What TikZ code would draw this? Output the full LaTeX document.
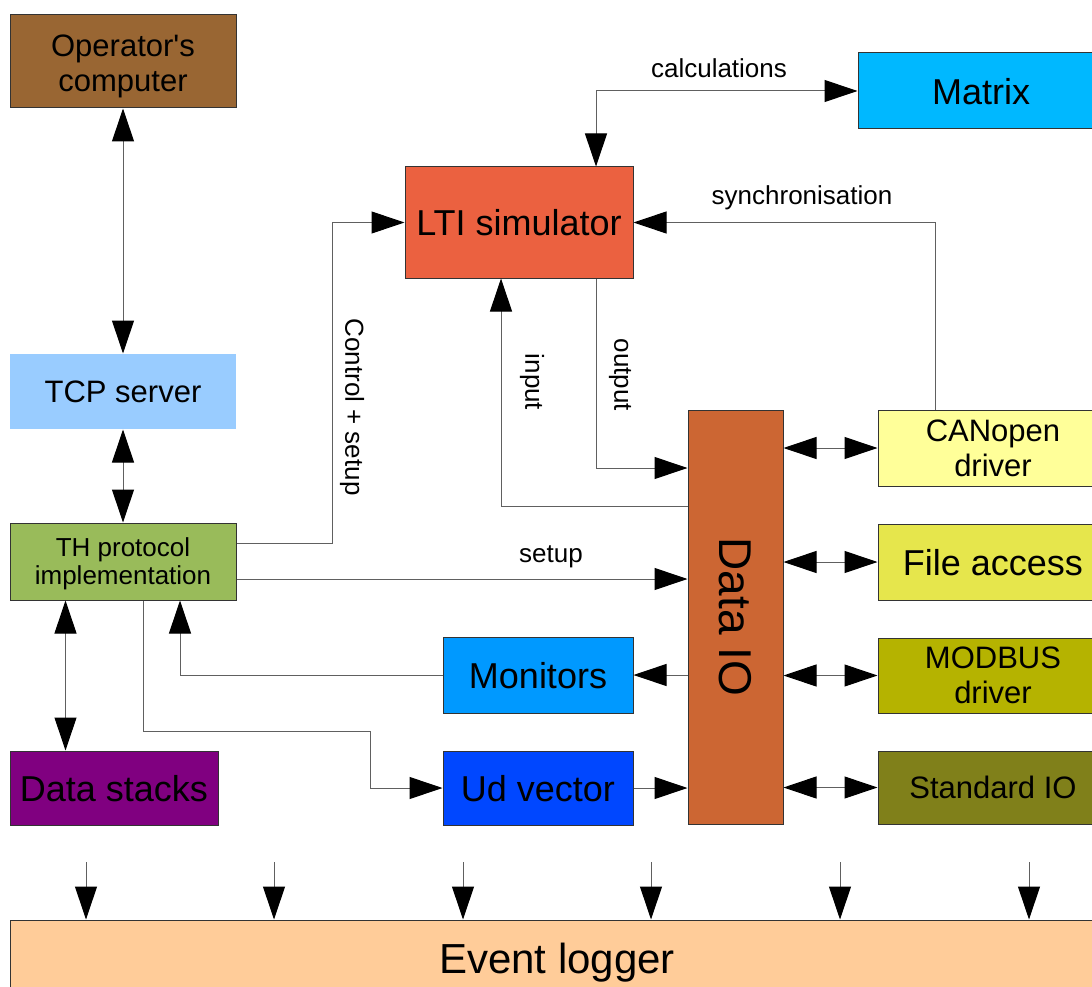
\documentclass[tikz,border=0pt]{standalone}
\usepackage{fontspec}
\setmainfont{Liberation Sans}
\usepackage{graphicx}
\usetikzlibrary{arrows.meta,calc}

\definecolor{cOp}{HTML}{996633}
\definecolor{cTcp}{HTML}{99CCFF}
\definecolor{cTh}{HTML}{99BB5A}
\definecolor{cDs}{HTML}{800080}
\definecolor{cLti}{HTML}{EB6140}
\definecolor{cMat}{HTML}{00B8FF}
\definecolor{cDio}{HTML}{CC6633}
\definecolor{cCan}{HTML}{FFFF99}
\definecolor{cFile}{HTML}{E6E64C}
\definecolor{cMod}{HTML}{B5B300}
\definecolor{cStd}{HTML}{80801A}
\definecolor{cMon}{HTML}{0099FF}
\definecolor{cUd}{HTML}{0047FF}
\definecolor{cEv}{HTML}{FFCC99}
\definecolor{cLine}{HTML}{606060}

\newcommand{\fs}[1]{\fontsize{#1}{#1}\selectfont}

\tikzset{
  box/.style={rectangle, draw=black!80, line width=1pt, inner sep=0pt, align=center, text depth=0pt},
  huge/.style={font=\fs{36}},
  big/.style={font=\fontsize{31}{35}\selectfont},
  small/.style={font=\fontsize{26}{28}\selectfont},
  lbl/.style={font=\fs{26}, inner sep=0pt},
  tip/.tip={Triangle[length=33pt,width=22pt,color=black,fill=black]},
  con/.style={draw=cLine, line width=1pt},
  fwd/.style={con, -tip},
  both/.style={con, tip-tip},
}

\begin{document}
\begin{tikzpicture}[x=1pt,y=-1pt]
\useasboundingbox (0,0) rectangle (1092,987);
\clip (0,0) rectangle (1092,987);

% blocks
\node[box, font=\fontsize{31}{37}\selectfont, fill=cOp, minimum width=226, minimum height=93] (op) at (123,61.5) {\raisebox{-3pt}{\shortstack{Operator\textquotesingle s\\[6pt]computer}}};
\node[box, big, draw=none, fill=cTcp, minimum width=226, minimum height=75] (tcp) at (123,391.5) {TCP server};
\node[box, small, fill=cTh, minimum width=226, minimum height=77] (th) at (123,561.5) {TH protocol\\implementation};
\node[box, huge, fill=cDs, minimum width=208, minimum height=74] (ds) at (114,788) {Data stacks};
\node[box, huge, fill=cLti, minimum width=228, minimum height=111] (lti) at (519,222.5) {LTI simulator};
\node[box, huge, fill=cMat, minimum width=246, minimum height=76] (mat) at (981,91) {Matrix};
\node[box, fill=cDio, minimum width=95, minimum height=414] (dio) at (735.5,617) {};
\node[font=\fs{46}, inner sep=0pt] at (dio.center) {\rotatebox{-90}{Data IO}};
\node[box, big, fill=cCan, minimum width=230, minimum height=76] (can) at (993,448) {CANopen\\driver};
\node[box, huge, fill=cFile, minimum width=230, minimum height=76] (file) at (993,562) {File access};
\node[box, big, fill=cMod, minimum width=230, minimum height=75] (mod) at (993,675.5) {MODBUS\\driver};
\node[box, big, fill=cStd, minimum width=230, minimum height=73] (std) at (993,787.5) {Standard IO};
\node[box, huge, fill=cMon, minimum width=190, minimum height=76] (mon) at (538,675) {Monitors};
\node[box, huge, fill=cUd, minimum width=190, minimum height=74] (ud) at (538,788) {Ud vector};
\node[box, font=\fs{42}, fill=cEv, minimum width=1094, minimum height=76] (ev) at (557,958) {Event logger};

% bends of the connectors
\coordinate (k1) at (332,543);
\coordinate (k2) at (0,579);
\coordinate (k3) at (143,731);
\coordinate (k4) at (370,731);
\coordinate (k5) at (180,0);
\coordinate (k6) at (596,468);
\coordinate (k7) at (501,506);
\coordinate (k8) at (596,91);
\coordinate (k9) at (935,222.5);

% operator side
\draw[both] (op.south) -- (tcp.north);
\draw[both] (tcp.south) -- (th.north);
\draw[both] ([xshift=56pt]th.south west) -- ([xshift=56pt]ds.north west);

% control and setup paths
\draw[fwd] (th.east |- k1) -- (k1) |- (lti.west);
\node[lbl, rotate=-90] at (352,407) {Control + setup};
\draw[fwd] (th.east |- k2) -- (dio.west |- k2);
\node[lbl] at (551,557) {setup};
\draw[fwd] (th.south -| k3) -- (k3) -- (k4) |- (ud.west);
\draw[fwd] (mon.west) -| (th.south -| k5);
\draw[fwd] (dio.west |- mon.west) -- (mon.east);
\draw[fwd] (ud.east) -- (dio.west |- ud.east);

% simulator loop
\draw[fwd] (lti.south -| k6) -- (k6) -- (dio.west |- k6);
\node[lbl, rotate=-90] at (620,375) {output};
\draw[fwd] (dio.west |- k7) -- (k7) -- (lti.south -| k7);
\node[lbl, rotate=-90] at (532,382) {input};
\draw[both] (lti.north -| k8) -- (k8) -- (mat.west);
\node[lbl] at (719,68) {calculations};
\draw[fwd] (can.north -| k9) -- (k9) -- (lti.east);
\node[lbl] at (802,198) {synchronisation};

% drivers
\draw[both] (dio.east |- can.west) -- (can.west);
\draw[both] (dio.east |- file.west) -- (file.west);
\draw[both] (dio.east |- mod.west) -- (mod.west);
\draw[both] (dio.east |- std.west) -- (std.west);

% event logger inputs
\foreach \ex [count=\i] in {86,274,463,651,840,1029} {
  \coordinate (e\i) at (\ex,862);
  \draw[fwd] (e\i) -- (ev.north -| e\i);
}
\end{tikzpicture}
\end{document}
